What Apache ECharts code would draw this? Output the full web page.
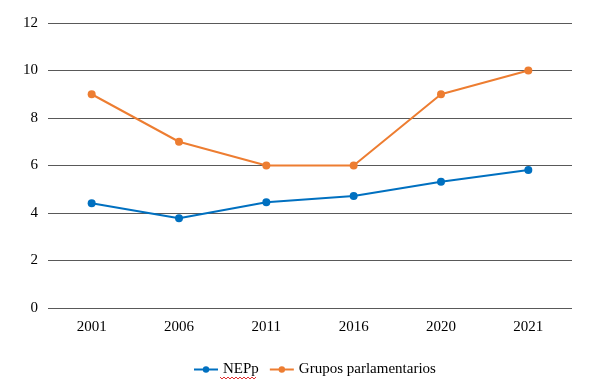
<!DOCTYPE html>
<html>
<head>
<meta charset="utf-8">
<script src="https://cdn.jsdelivr.net/npm/echarts@6/dist/echarts.min.js"></script>
<style>html,body{margin:0;padding:0;background:#fff;}</style>
</head>
<body>
<div id="chart" style="width:589px;height:384px;"></div>
<script>
var years = ['2001', '2006', '2011', '2016', '2020', '2021'];
var nepp = [4.41, 3.78, 4.45, 4.72, 5.32, 5.81];
var grupos = [9, 7, 6, 6, 9, 10];

var chart = echarts.init(document.getElementById('chart'));
var font = 'Liberation Serif';

// wavy spell-check underline under "NEPp"
var wave = [];
for (var x = 220; x <= 256; x += 2) {
    wave.push([x, (x / 2) % 2 === 0 ? 377 : 379]);
}

var option = {
    animation: false,
    grid: { left: 48, right: 17, top: 23, bottom: 76 },
    legend: {
        data: ['NEPp', 'Grupos parlamentarios'],
        top: 357,
        left: 188,
        itemWidth: 24,
        itemHeight: 8,
        itemGap: 10,
        textStyle: { fontFamily: font, fontSize: 15, color: '#000' }
    },
    graphic: [{
        type: 'polyline',
        shape: { points: wave },
        style: { stroke: '#e03030', lineWidth: 1, fill: null },
        silent: true
    }],
    xAxis: {
        type: 'category',
        data: years,
        axisTick: { show: false },
        axisLine: { show: false },
        axisLabel: { fontFamily: font, fontSize: 15, color: '#000', margin: 12 }
    },
    yAxis: {
        type: 'value',
        min: 0,
        max: 12,
        interval: 2,
        axisLine: { show: false },
        axisTick: { show: false },
        axisLabel: { fontFamily: font, fontSize: 15, color: '#000', margin: 10 },
        splitLine: { lineStyle: { color: '#595959', width: 1 } }
    },
    series: [
        {
            name: 'NEPp',
            type: 'line',
            data: nepp,
            symbol: 'circle',
            symbolSize: 8,
            color: '#0070C0',
            lineStyle: { width: 2 }
        },
        {
            name: 'Grupos parlamentarios',
            type: 'line',
            data: grupos,
            symbol: 'circle',
            symbolSize: 8,
            color: '#ED7D31',
            lineStyle: { width: 2 }
        }
    ]
};
chart.setOption(option);
</script>
</body>
</html>
